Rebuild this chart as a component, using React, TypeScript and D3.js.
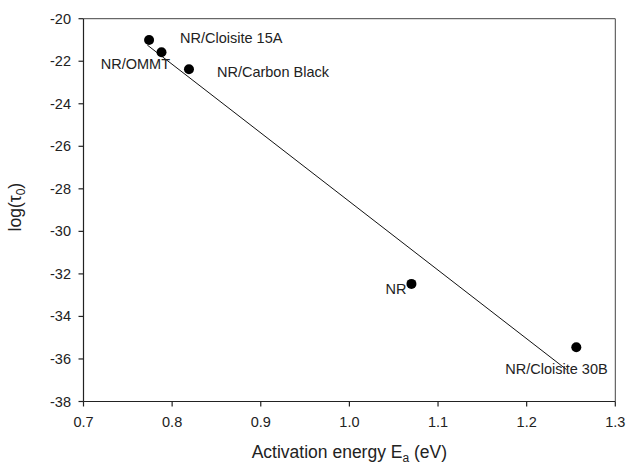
import React from "react";
import * as d3 from "d3";

// Samples: activation energy (eV) against log of the relaxation pre-factor
const sampleNames = ["NR/Cloisite 15A", "NR/OMMT", "NR/Carbon Black", "NR", "NR/Cloisite 30B"];
const activationEnergy = [0.774, 0.788, 0.819, 1.07, 1.256];
const logTau0 = [-21.0, -21.58, -22.38, -32.47, -35.45];

// Linear fit drawn across the data range
const fitEnergy = [0.772, 1.245];
const fitLogTau = [-21.24, -36.5];

const xTicks = [0.7, 0.8, 0.9, 1.0, 1.1, 1.2, 1.3];
const yTicks = [-20, -22, -24, -26, -28, -30, -32, -34, -36, -38];

// Label placement relative to each point: [dx, dy, anchor]
const labelOffsets: [number, number, string][] = [
  [31, 2.7, "start"],
  [8.5, 17, "end"],
  [28, 8, "start"],
  [-5, 10.5, "end"],
  [-71, 27, "start"],
];

const W = 627;
const H = 464;
const left = 83.5;
const right = 615.3;
const top = 18.7;
const bottom = 401.5;

export default function App() {
  const x = d3.scaleLinear().domain([0.7, 1.3]).range([left, right]);
  const y = d3.scaleLinear().domain([-38, -20]).range([bottom, top]);
  const font = "'Liberation Sans', Arial, sans-serif";

  const fitLine = d3
    .line<number>()
    .x((d, i) => x(fitEnergy[i]))
    .y((d) => y(d))(fitLogTau) as string;

  return (
    <svg
      width={W}
      height={H}
      viewBox={`0 0 ${W} ${H}`}
      style={{ position: "absolute", left: 0, top: 0, background: "#fff" }}
      fontFamily={font}
    >
      <rect x={0} y={0} width={W} height={H} fill="#fff" />
      {/* frame */}
      <line x1={left} x2={right} y1={top} y2={top} stroke="#444" strokeWidth={1} />
      <line x1={right} x2={right} y1={top} y2={bottom} stroke="#444" strokeWidth={1} />
      <line x1={left} x2={left} y1={top} y2={bottom} stroke="#222" strokeWidth={1.2} />
      <line x1={left} x2={right} y1={bottom} y2={bottom} stroke="#222" strokeWidth={1.2} />

      {/* x axis ticks */}
      {xTicks.map((t) => (
        <g key={`x${t}`}>
          <line x1={x(t)} x2={x(t)} y1={bottom} y2={bottom + 5} stroke="#222" strokeWidth={1.2} />
          <text x={x(t)} y={427} textAnchor="middle" fontSize={14.5} fill="#222">
            {t.toFixed(1)}
          </text>
        </g>
      ))}

      {/* y axis ticks */}
      {yTicks.map((t) => (
        <g key={`y${t}`}>
          <line x1={left - 5} x2={left} y1={y(t)} y2={y(t)} stroke="#222" strokeWidth={1.2} />
          <text x={left - 12.5} y={y(t) + 5} textAnchor="end" fontSize={14.5} fill="#222">
            {t}
          </text>
        </g>
      ))}

      {/* axis titles */}
      <text x={(left + right) / 2} y={458} textAnchor="middle" fontSize={17.5} fill="#222">
        Activation energy E
        <tspan fontSize={12} dy={4}>a</tspan>
        <tspan dy={-4}> (eV)</tspan>
      </text>
      <text
        transform={`translate(21, ${(top + bottom) / 2 - 3}) rotate(-90)`}
        textAnchor="middle"
        fontSize={17.5}
        fill="#222"
      >
        log(τ
        <tspan fontSize={12} dy={4}>0</tspan>
        <tspan dy={-4}>)</tspan>
      </text>

      {/* fit line */}
      <path d={fitLine} fill="none" stroke="#111" strokeWidth={1} />

      {/* points and labels */}
      {sampleNames.map((name, i) => {
        const px = x(activationEnergy[i]);
        const py = y(logTau0[i]);
        const [dx, dy, anchor] = labelOffsets[i];
        return (
          <g key={name}>
            <circle cx={px} cy={py} r={5} fill="#000" />
            <text
              x={px + dx}
              y={py + dy}
              textAnchor={anchor as any}
              fontSize={14.5}
              fill="#222"
            >
              {name}
            </text>
          </g>
        );
      })}
    </svg>
  );
}
